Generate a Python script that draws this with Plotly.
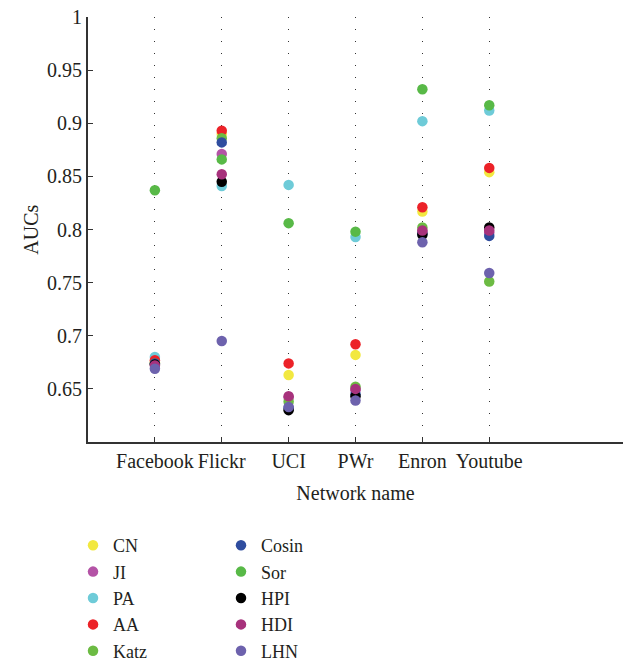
import plotly.graph_objects as go

categories = ["Facebook", "Flickr", "UCI", "PWr", "Enron", "Youtube"]
x_pos = [1, 2, 3, 4, 5, 6]

methods = ["CN", "JI", "PA", "AA", "Katz", "Cosin", "Sor", "HPI", "HDI", "LHN"]
colors = ["#f2e840", "#b453a6", "#6ecbd8", "#ec2228", "#6cbb43",
          "#2f4d9f", "#58b947", "#000000", "#a7327c", "#6d62ad"]

CN = [0.675, 0.890, 0.663, 0.682, 0.817, 0.854]
JI = [0.674, 0.871, 0.642, 0.649, 0.798, 0.797]
PA = [0.680, 0.841, 0.842, 0.793, 0.902, 0.912]
AA = [0.677, 0.893, 0.674, 0.692, 0.821, 0.858]
Katz = [0.674, 0.886, 0.638, 0.652, 0.802, 0.751]
Cosin = [0.674, 0.882, 0.632, 0.645, 0.796, 0.794]
Sor = [0.837, 0.866, 0.806, 0.798, 0.932, 0.917]
HPI = [0.673, 0.845, 0.630, 0.643, 0.795, 0.802]
HDI = [0.672, 0.852, 0.643, 0.650, 0.799, 0.799]
LHN = [0.669, 0.695, 0.633, 0.639, 0.788, 0.759]

series = [CN, JI, PA, AA, Katz, Cosin, Sor, HPI, HDI, LHN]

font_family = "Liberation Serif"
txt_col = "#231f20"

fig = go.Figure()
for i, (name, vals, col) in enumerate(zip(methods, series, colors)):
    fig.add_trace(go.Scatter(
        x=x_pos, y=vals, mode="markers", name=name,
        marker=dict(color=col, size=10.5, line=dict(width=0)),
        legend="legend" if i < 5 else "legend2",
    ))

leg_common = dict(y=-0.200, xanchor="left", yanchor="top",
                  font=dict(family=font_family, size=18, color=txt_col),
                  bgcolor="rgba(0,0,0,0)", itemwidth=30)

fig.update_layout(
    width=634, height=663,
    margin=dict(l=88, r=11, t=17, b=221, autoexpand=False),
    paper_bgcolor="white", plot_bgcolor="white",
    font=dict(family=font_family, size=20, color=txt_col),
    showlegend=True,
    legend=dict(x=-0.028, **leg_common),
    legend2=dict(x=0.2486, **leg_common),
    xaxis=dict(
        range=[0, 8], tickmode="array", tickvals=x_pos, ticktext=categories,
        showgrid=True, gridcolor="#333333", gridwidth=1, griddash="1px,11px",
        zeroline=False, showline=True, linecolor="#333333", linewidth=2,
        ticks="inside", ticklen=5, tickcolor="#333333", tickwidth=1,
        title=dict(text="Network name",
                   font=dict(family=font_family, size=20, color=txt_col)),
        tickfont=dict(family=font_family, size=20, color=txt_col),
        tickangle=0, automargin=False,
        layer="above traces", fixedrange=True,
    ),
    yaxis=dict(
        range=[0.6, 1], tickmode="array",
        tickvals=[0.65, 0.7, 0.75, 0.8, 0.85, 0.9, 0.95, 1],
        ticktext=["0.65", "0.7", "0.75", "0.8", "0.85", "0.9", "0.95", "1"],
        showgrid=False, zeroline=False, showline=True, linecolor="#333333",
        linewidth=2, ticks="inside", ticklen=5, tickcolor="#333333", tickwidth=1,
        tickfont=dict(family=font_family, size=20, color=txt_col),
        automargin=False, fixedrange=True,
    ),
    annotations=[dict(
        text="AUCs", textangle=-90, xref="paper", yref="paper",
        x=-0.108, y=0.5, xanchor="center", yanchor="middle", showarrow=False,
        font=dict(family=font_family, size=20, color=txt_col),
    )],
)

fig.write_html("out.html")
